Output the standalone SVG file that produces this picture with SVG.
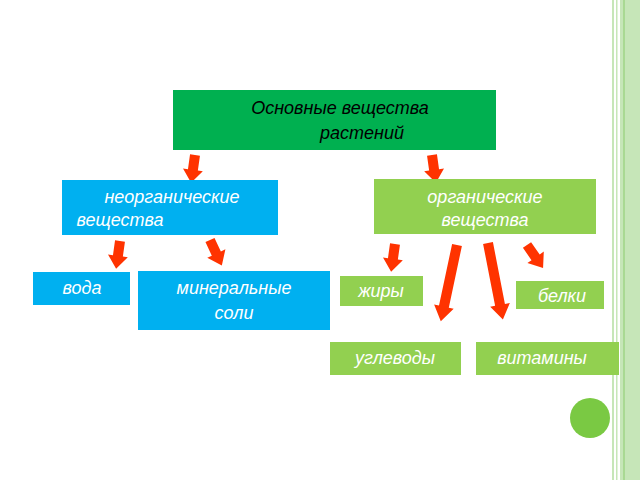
<svg xmlns="http://www.w3.org/2000/svg" width="640" height="480" viewBox="0 0 640 480">
<defs>
<style>
.t{font-family:"Liberation Sans",Arial,sans-serif;font-style:italic;font-size:18px;text-anchor:middle}
.w{fill:#fff}
.a{fill:#ff3300}
</style>
<polygon id="s" points="-5,0 5,0 5,15 10,15 0,28 -10,15 -5,15"/>
<polygon id="l" points="-5,0 5,0 5,63 10,63 0,78 -10,63 -5,63"/>
</defs>
<rect width="640" height="480" fill="#fff"/>
<g id="border">
<rect x="612" y="0" width="2" height="480" fill="#c6e6b8"/>
<rect x="616" y="0" width="1.5" height="480" fill="#c6e6b8"/>
<rect x="620" y="0" width="20" height="480" fill="#c6e6b8"/>
<rect x="623" y="0" width="2" height="480" fill="#a9d993"/>
</g>
<g id="connectors" class="a">
<use href="#s" transform="translate(195,155) rotate(8)"/>
<use href="#s" transform="translate(432,155) rotate(-8)"/>
<use href="#s" transform="translate(120,241) rotate(8)"/>
<use href="#s" transform="translate(210,240) rotate(-25)"/>
<use href="#s" transform="translate(395,244) rotate(8)"/>
<use href="#s" transform="translate(527,245) rotate(-35)"/>
<use href="#l" transform="translate(457,245) rotate(12)"/>
<use href="#l" transform="translate(488,243) rotate(-11)"/>
</g>
<g id="n-main"><rect x="173" y="90" width="323" height="60" fill="#00b050"/>
<text class="t" x="340" y="114">Основные вещества</text><text class="t" x="362" y="139">растений</text></g>
<g id="n-inorg"><rect x="62" y="180" width="216" height="55" fill="#00b0f0"/>
<text class="t w" x="172" y="203">неорганические</text><text class="t w" x="120" y="226">вещества</text></g>
<g id="n-org"><rect x="374" y="179" width="222" height="55" fill="#92d050"/>
<text class="t w" x="485" y="203">органические</text><text class="t w" x="485" y="226">вещества</text></g>
<g id="n-water"><rect x="33" y="272" width="97" height="33" fill="#00b0f0"/><text class="t w" x="82" y="294">вода</text></g>
<g id="n-min"><rect x="138" y="271" width="192" height="59" fill="#00b0f0"/>
<text class="t w" x="234" y="294">минеральные</text><text class="t w" x="234" y="319">соли</text></g>
<g id="n-fat"><rect x="340" y="276" width="83" height="30" fill="#92d050"/><text class="t w" x="381" y="297">жиры</text></g>
<g id="n-prot"><rect x="516" y="281" width="88" height="28" fill="#92d050"/><text class="t w" x="562" y="302">белки</text></g>
<g id="n-carb"><rect x="330" y="342" width="131" height="33" fill="#92d050"/><text class="t w" x="395" y="364">углеводы</text></g>
<g id="n-vit"><rect x="476" y="342" width="143" height="33" fill="#92d050"/><text class="t w" x="542" y="364">витамины</text></g>
<circle cx="590" cy="418" r="20" fill="#7ac943"/>
</svg>
